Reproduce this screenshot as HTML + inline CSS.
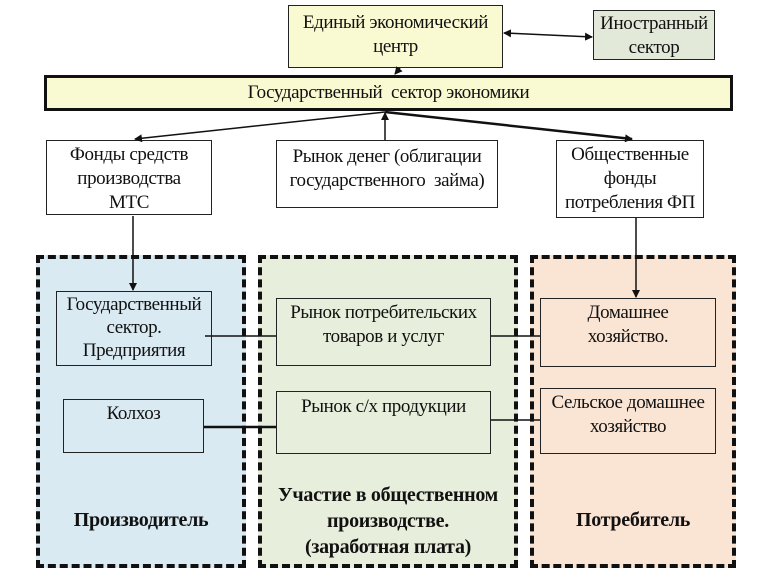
<!DOCTYPE html><html><head><meta charset="utf-8"><style>
body{margin:0;width:771px;height:573px;background:#fff;position:relative;overflow:hidden;font-family:"Liberation Serif",serif;}
.b{position:absolute;border:1.5px solid #222;box-sizing:border-box;text-align:center;font-size:19px;line-height:24px;color:#111;letter-spacing:-0.4px;white-space:nowrap;}
.z{position:absolute;box-sizing:border-box;border:4px dashed #111;}
.l{position:absolute;text-align:center;font-weight:bold;font-size:20px;line-height:26px;color:#111;letter-spacing:-0.3px;}
</style></head><body>
<div class="z" style="left:36px;top:255px;width:210px;height:313px;background:#daeaf2"></div>
<div class="z" style="left:258px;top:255px;width:260px;height:313px;background:#e7eedb"></div>
<div class="z" style="left:530px;top:255px;width:206px;height:313px;background:#fae4d4"></div>
<div class="b" style="left:288px;top:5px;width:215px;height:63px;background:#fafad2;padding-top:5px">Единый экономический<br>центр</div>
<div class="b" style="left:593px;top:10px;width:122px;height:50px;background:#e3e9d8;padding-top:1px">Иностранный<br>сектор</div>
<div class="b" style="left:44px;top:75px;width:689px;height:36px;background:#fafad2;border:3px solid #111;line-height:30px">Государственный&nbsp; сектор экономики</div>
<div class="b" style="left:46px;top:140px;width:166px;height:75px;background:#fff;padding-top:2px">Фонды средств<br>производства<br>МТС</div>
<div class="b" style="left:276px;top:140px;width:222px;height:68px;background:#fff;padding-top:4px">Рынок денег (облигации<br>государственного&nbsp; займа)</div>
<div class="b" style="left:556px;top:140px;width:148px;height:78px;background:#fff;padding-top:2px">Общественные<br>фонды<br>потребления ФП</div>
<div class="b" style="left:56px;top:291px;width:156px;height:75px;background:#daeaf2;line-height:23px;padding-top:1px">Государственный<br>сектор.<br>Предприятия</div>
<div class="b" style="left:63px;top:399px;width:141px;height:54px;background:#daeaf2;padding-top:2px">Колхоз</div>
<div class="b" style="left:276px;top:298px;width:215px;height:68px;background:#e7eedb;padding-top:2px">Рынок потребительских<br>товаров и услуг</div>
<div class="b" style="left:276px;top:391px;width:215px;height:63px;background:#e7eedb;padding-top:3px">Рынок с/х продукции</div>
<div class="b" style="left:540px;top:298px;width:176px;height:69px;background:#fae4d4;padding-top:2px">Домашнее<br>хозяйство.</div>
<div class="b" style="left:540px;top:388px;width:176px;height:66px;background:#fae4d4;padding-top:2px">Сельское домашнее<br>хозяйство</div>
<div class="l" style="left:36px;top:507px;width:210px">Производитель</div>
<div class="l" style="left:258px;top:482px;width:260px">Участие в общественном<br>производстве.<br>(заработная плата)</div>
<div class="l" style="left:530px;top:507px;width:206px">Потребитель</div>
<svg width="771" height="573" style="position:absolute;left:0;top:0">
<defs><marker id="a" markerWidth="8" markerHeight="8" refX="7" refY="4" orient="auto-start-reverse" markerUnits="userSpaceOnUse"><path d="M0,0L8,4L0,8z" fill="#111"/></marker></defs>
<g stroke="#111" stroke-width="1.5" fill="none">
<line x1="504" y1="33" x2="592" y2="37" marker-end="url(#a)" marker-start="url(#a)"/>
<line x1="400" y1="68" x2="395" y2="74" marker-end="url(#a)"/>
<line x1="385" y1="112" x2="135" y2="139" marker-end="url(#a)"/>
<line x1="385" y1="140" x2="385" y2="113" marker-end="url(#a)"/>
<line x1="385" y1="112" x2="632" y2="139" stroke-width="2.5" marker-end="url(#a)"/>
<line x1="133" y1="216" x2="133" y2="290" marker-end="url(#a)"/>
<line x1="636" y1="218" x2="636" y2="297" marker-end="url(#a)"/>
<line x1="205" y1="336" x2="276" y2="336"/>
<line x1="491" y1="336" x2="540" y2="336"/>
<line x1="204" y1="427" x2="276" y2="427" stroke-width="2.5"/>
<line x1="491" y1="420" x2="540" y2="420"/>
</g></svg>
</body></html>
